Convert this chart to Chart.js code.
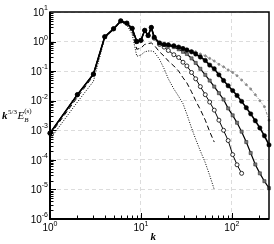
<!DOCTYPE html>
<html>
<head>
<meta charset="utf-8">
<script src="https://cdn.jsdelivr.net/npm/chart.js@4.4.0/dist/chart.umd.min.js"></script>
<style>
  html, body { margin: 0; padding: 0; background: #fff; }
  #wrap { width: 274px; height: 244px; }
</style>
</head>
<body>
<div id="wrap"><canvas id="espectro"></canvas></div>
<script>
// wavenumbers k (shared by all curves, shorter curves stop earlier)
const waveNumbers = [1, 2, 3, 4, 5, 6, 7, 8, 9, 10, 11, 12, 13, 14, 16, 18, 20, 23, 26, 29, 32, 36, 40, 45, 51, 57, 64, 72, 81, 91, 102, 114, 128, 144, 161, 181, 203, 228, 256];

const filledCircles = [8e-4, 0.016, 0.079, 1.45, 2.7, 5.0, 4.2, 2.8, 1.0, 1.1, 2.4, 1.6, 3.0, 1.4, 0.9, 0.8, 0.78, 0.72, 0.65, 0.58, 0.52, 0.45, 0.38, 0.3, 0.23, 0.16, 0.12, 0.075, 0.048, 0.032, 0.022, 0.015, 0.0095, 0.0058, 0.0036, 0.0021, 0.0012, 6.5e-4, 3.2e-4];
const grayDashDot = [8e-4, 0.016, 0.079, 1.45, 2.7, 5.0, 4.2, 2.8, 1.0, 1.1, 2.4, 1.6, 3.0, 1.4, 0.9, 0.85, 0.8, 0.75, 0.7, 0.62, 0.56, 0.5, 0.45, 0.38, 0.33, 0.27, 0.22, 0.17, 0.14, 0.11, 0.09, 0.07, 0.05, 0.035, 0.025, 0.016, 0.01, 0.0063, 0.0022];
const graySquares = [8e-4, 0.016, 0.079, 1.45, 2.7, 5.0, 4.2, 2.8, 1.0, 1.1, 2.4, 1.6, 3.0, 1.4, 0.88, 0.78, 0.72, 0.65, 0.55, 0.45, 0.38, 0.27, 0.19, 0.12, 0.075, 0.048, 0.03, 0.018, 0.011, 0.0055, 0.0032, 0.0018, 9e-4, 4e-4, 1.7e-4, 7e-5, 3.5e-5, 1.9e-5, 1.1e-5];
const openCircles = [8e-4, 0.016, 0.079, 1.45, 2.7, 5.0, 4.2, 2.8, 1.0, 1.1, 2.4, 1.6, 3.0, 1.3, 0.8, 0.65, 0.5, 0.36, 0.29, 0.2, 0.15, 0.09, 0.055, 0.03, 0.016, 0.009, 0.0048, 0.0022, 0.001, 4.5e-4, 1.5e-4, 6.8e-5, 3.5e-5];
const dashed = [7e-4, 0.013, 0.07, 1.4, 2.6, 4.8, 4.0, 2.4, 0.55, 0.6, 0.8, 0.85, 0.9, 0.75, 0.45, 0.32, 0.22, 0.15, 0.1, 0.06, 0.04, 0.02, 0.01, 0.005, 0.0022, 9e-4, 4e-4];
const dotted = [5e-4, 0.009, 0.045, 1.3, 2.5, 4.6, 3.6, 1.8, 0.32, 0.35, 0.45, 0.48, 0.48, 0.45, 0.25, 0.12, 0.055, 0.025, 0.014, 0.008, 0.0035, 0.0012, 5e-4, 2e-4, 8e-5, 3e-5, 1e-5];

const xTicks = [1, 10, 100];
const yTicks = [1e-6, 1e-5, 1e-4, 1e-3, 1e-2, 1e-1, 1, 10];

function pontos(vals) {
  return vals.map((v, i) => ({ x: waveNumbers[i], y: v }));
}

const eixos = {
  id: 'eixos',
  afterDraw(chart) {
    const { ctx, chartArea: a, scales: { x, y } } = chart;
    ctx.save();
    ctx.strokeStyle = '#000';
    ctx.lineWidth = 1.5;
    ctx.strokeRect(a.left, a.top, a.right - a.left, a.bottom - a.top);
    ctx.lineWidth = 2;
    ctx.beginPath();
    ctx.moveTo(a.left, a.top);
    ctx.lineTo(a.left, a.bottom);
    ctx.lineTo(a.right, a.bottom);
    ctx.stroke();

    // inward ticks
    ctx.lineWidth = 1;
    ctx.beginPath();
    for (let i = 0; i < yTicks.length - 1; i++) {
      for (let m = 1; m < 10; m++) {
        const py = Math.round(y.getPixelForValue(yTicks[i] * m)) + 0.5;
        ctx.moveTo(a.left, py);
        ctx.lineTo(a.left + (m === 1 ? 6 : 3.5), py);
      }
    }
    for (let i = 0; i < xTicks.length; i++) {
      for (let m = 1; m < 10; m++) {
        const v = xTicks[i] * m;
        if (v > x.max) break;
        const px = Math.round(x.getPixelForValue(v)) + 0.5;
        ctx.moveTo(px, a.bottom);
        ctx.lineTo(px, a.bottom - (m === 1 ? 6 : 3.5));
      }
    }
    ctx.stroke();

    // tick labels 10^n
    ctx.fillStyle = '#000';
    ctx.textBaseline = 'middle';
    const big = '10px "Liberation Sans"';
    const small = '7px "Liberation Sans"';
    yTicks.forEach(v => {
      const ex = String(Math.round(Math.log10(v)));
      const py = y.getPixelForValue(v);
      ctx.font = small;
      const we = ctx.measureText(ex).width;
      ctx.textAlign = 'right';
      ctx.fillText(ex, a.left - 2, py - 4);
      ctx.font = big;
      ctx.fillText('10', a.left - 2 - we, py + 1);
    });
    xTicks.forEach(v => {
      const ex = String(Math.round(Math.log10(v)));
      const px = x.getPixelForValue(v);
      ctx.font = big;
      const wb = ctx.measureText('10').width;
      ctx.font = small;
      const we = ctx.measureText(ex).width;
      const x0 = px - (wb + we) / 2;
      ctx.textAlign = 'left';
      ctx.font = big;
      ctx.fillText('10', x0, a.bottom + 9);
      ctx.font = small;
      ctx.fillText(ex, x0 + wb, a.bottom + 5);
    });

    // axis titles
    ctx.textAlign = 'left';
    ctx.textBaseline = 'alphabetic';
    ctx.font = 'italic bold 11px "Liberation Serif"';
    ctx.fillText('k', (a.left + a.right) / 2 - 9, a.bottom + 21);

    let tx = 2;
    const ty = 119;
    ctx.font = 'italic bold 11px "Liberation Serif"';
    ctx.fillText('k', tx, ty);
    tx += ctx.measureText('k').width + 0.5;
    ctx.font = '7px "Liberation Serif"';
    ctx.fillText('5/3', tx, ty - 5);
    tx += ctx.measureText('5/3').width + 0.5;
    ctx.font = 'italic 11px "Liberation Serif"';
    ctx.fillText('E', tx, ty);
    tx += ctx.measureText('E').width;
    ctx.font = 'italic 7px "Liberation Serif"';
    ctx.fillText('B', tx, ty + 3);
    ctx.font = '7px "Liberation Serif"';
    ctx.fillText('(s)', tx, ty - 6);
    ctx.restore();
  }
};

new Chart(document.getElementById('espectro'), {
  type: 'line',
  data: {
    datasets: [
      {
        label: 'filled circles',
        data: pontos(filledCircles),
        borderColor: '#000',
        borderWidth: 1.6,
        pointRadius: 2.2,
        pointBackgroundColor: '#000',
        pointBorderColor: '#000',
        pointBorderWidth: 0.5,
        clip: false
      },
      {
        label: 'gray squares',
        data: pontos(graySquares),
        borderColor: '#000',
        borderWidth: 1.2,
        pointStyle: 'rect',
        pointRadius: 2.2,
        pointBackgroundColor: '#777',
        pointBorderColor: '#333',
        pointBorderWidth: 0.6,
        clip: false
      },
      {
        label: 'open circles',
        data: pontos(openCircles),
        borderColor: '#000',
        borderWidth: 1,
        pointRadius: 2,
        pointBackgroundColor: '#fff',
        pointBorderColor: '#000',
        pointBorderWidth: 0.8,
        clip: false
      },
      {
        label: 'gray dash-dot',
        data: pontos(grayDashDot),
        borderColor: '#8a8a8a',
        borderWidth: 1,
        borderDash: [3, 1.5, 1, 1.5],
        pointRadius: 1,
        pointBackgroundColor: '#8a8a8a',
        pointBorderColor: '#8a8a8a',
        clip: false
      },
      {
        label: 'dashed',
        data: pontos(dashed),
        borderColor: '#000',
        borderWidth: 1,
        borderDash: [5, 3],
        pointRadius: 0
      },
      {
        label: 'dotted',
        data: pontos(dotted),
        borderColor: '#000',
        borderWidth: 1,
        borderDash: [1, 1.5],
        pointRadius: 0
      }
    ]
  },
  options: {
    responsive: true,
    maintainAspectRatio: false,
    animation: false,
    events: [],
    layout: { padding: { left: 0, top: 12, right: 3, bottom: 0 } },
    plugins: { legend: { display: false }, tooltip: { enabled: false } },
    elements: { line: { tension: 0 } },
    scales: {
      x: {
        type: 'logarithmic',
        min: 1,
        max: 256,
        afterBuildTicks: s => { s.ticks = xTicks.map(v => ({ value: v })); },
        afterFit: s => { s.height = 25; },
        ticks: { display: false },
        border: { display: false, dash: [4, 3] },
        grid: { color: '#dcdcdc', lineWidth: 1, drawTicks: false }
      },
      y: {
        type: 'logarithmic',
        min: 1e-6,
        max: 10,
        afterBuildTicks: s => { s.ticks = yTicks.map(v => ({ value: v })); },
        afterFit: s => { s.width = 50; },
        ticks: { display: false },
        border: { display: false, dash: [4, 3] },
        grid: { color: '#dcdcdc', lineWidth: 1, drawTicks: false }
      }
    }
  },
  plugins: [eixos]
});
</script>
</body>
</html>
